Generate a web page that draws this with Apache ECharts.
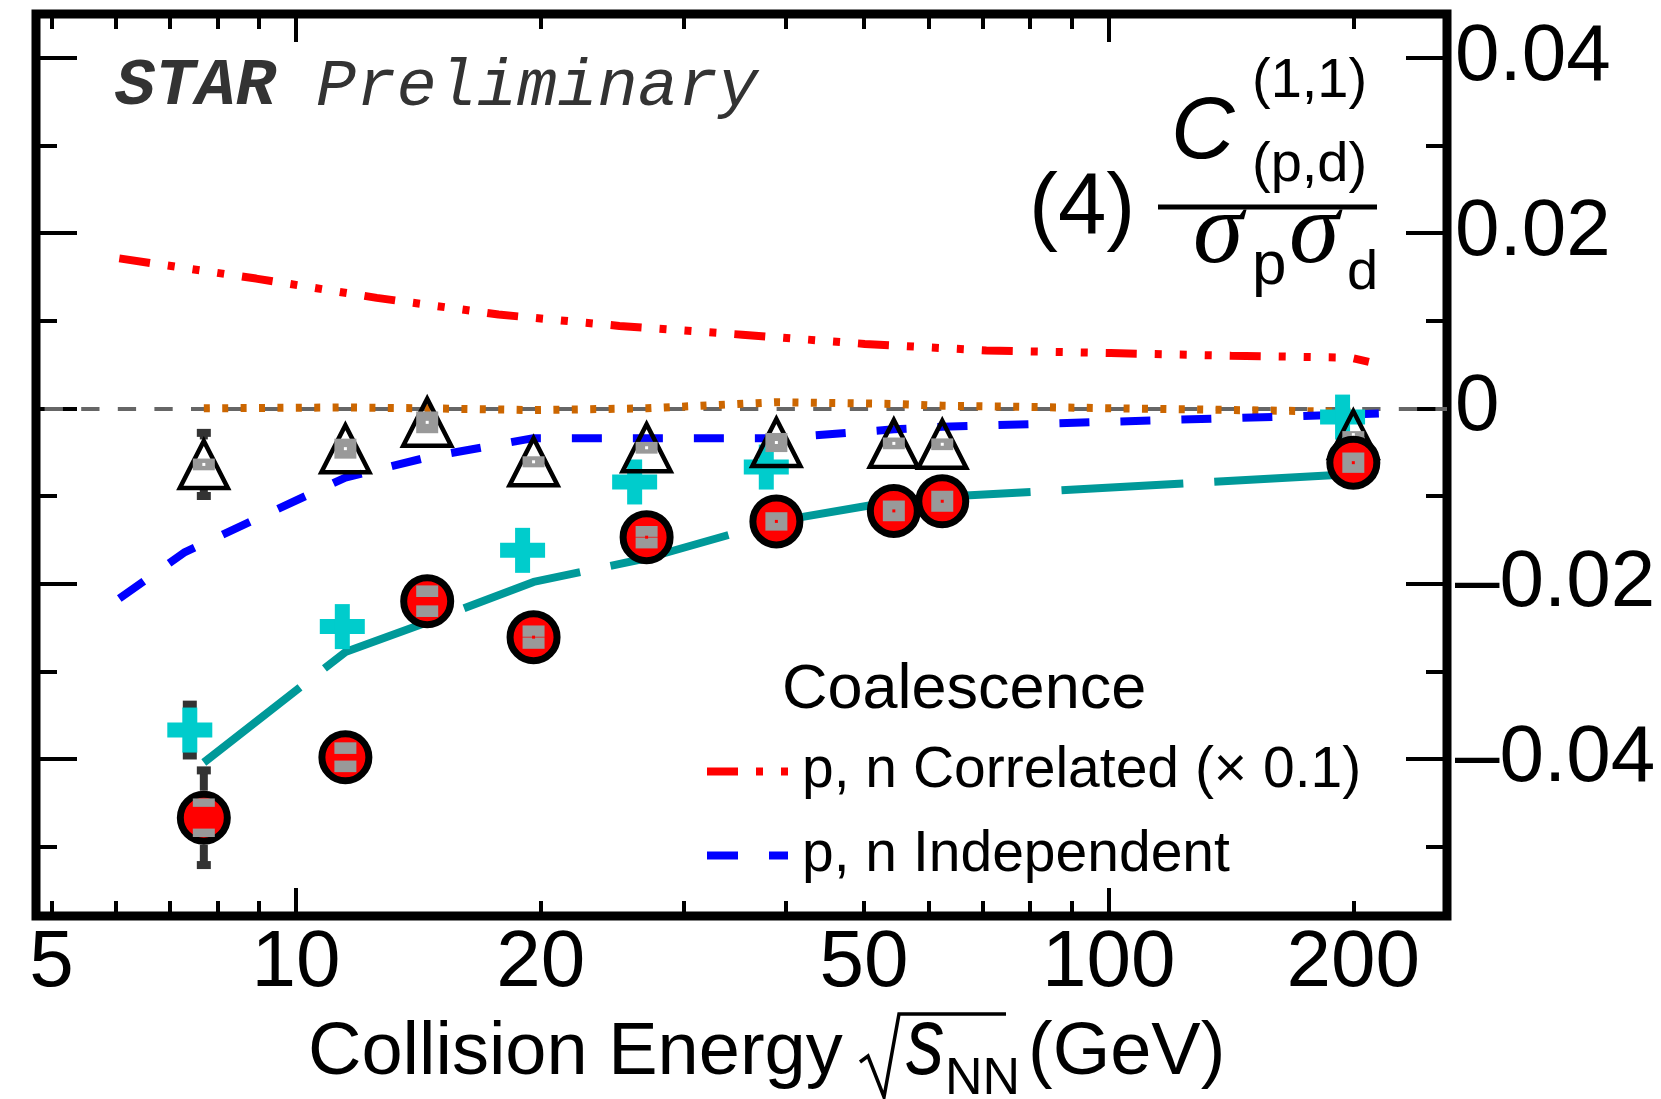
<!DOCTYPE html>
<html>
<head>
<meta charset="utf-8">
<script src="https://cdn.jsdelivr.net/npm/echarts@6/dist/echarts.min.js"></script>
<style>
html,body{margin:0;padding:0;background:#fff;}
#chart{width:1661px;height:1099px;}
</style>
</head>
<body>
<div id="chart"></div>
<script>
// ---------------- data ----------------
const energies = [7.7, 11.5, 14.5, 19.6, 27, 39, 54.4, 62.4, 200];

// red filled circles (measurement)
const circleValues  = [-0.0467, -0.0398, -0.0220, -0.0261, -0.0147, -0.0129, -0.0117, -0.0106, -0.0062];
const circleStatErr = [0.0054, 0.0030, 0.0012, 0.0010, 0.0008, 0.0008, 0.0008, 0.0008, 0.0010];
const circleSysErr  = [0.0022, 0.0017, 0.0018, 0.00133, 0.00128, 0.00105, 0.00118, 0.0012, 0.00116];
const circleSysGap  = [0.00124, 0.00038, 0.00048, 0.00004, 0.00004, 0, 0, 0, 0];

// open triangles
const triangleValues  = [-0.0064, -0.0046, -0.0016, -0.0061, -0.0045, -0.0039, -0.0040, -0.0041, -0.0030];
const triangleStatErr = [0.0036, 0.0012, 0.0010, 0.0010, 0.0010, 0.0010, 0.0010, 0.0010, 0.0010];
const triangleSysErr  = [0.00067, 0.00114, 0.00124, 0.00063, 0.00067, 0.00109, 0.00067, 0.00067, 0.0004];

// cyan crosses
const crossEnergies = [7.4, 11.4, 19.0, 26.1, 37.9, 194];
const crossValues   = [-0.0367, -0.0249, -0.0162, -0.0084, -0.0067, -0.0010];
const crossStatErr  = [0.0029, 0.0010, 0.0010, 0.0010, 0.0010, 0.0010];

// model curves
const correlatedE = [6.06, 8.93, 12.57, 17.75, 25.0, 35.4, 50.1, 70.7, 100.6, 141.5, 191.5, 200, 209];
const correlatedV = [0.0171, 0.0148, 0.0126, 0.0107, 0.0094, 0.0084, 0.00735, 0.0066, 0.0063, 0.0060, 0.0058, 0.0057, 0.0053];

const independentE = [6.06, 7.3, 7.7, 11.5, 14.5, 19.6, 27, 39, 54.4, 62.4, 200, 215];
const independentV = [-0.0217, -0.0164, -0.0154, -0.0079, -0.0056, -0.0034, -0.0034, -0.0034, -0.0024, -0.0021, -0.0007, -0.0006];

const tealE = [7.7, 11.5, 14.5, 19.6, 27, 39, 54.4, 62.4, 200];
const tealV = [-0.0404, -0.0278, -0.0244, -0.0198, -0.0171, -0.0129, -0.0106, -0.0101, -0.0075];

const orangeE = [7.7, 11.5, 14.5, 19.6, 27, 39, 54.4, 62.4, 200];
const orangeV = [0.0000, 0.0001, 0.0000, -0.0002, 0.0000, 0.0007, 0.0005, 0.0003, -0.0004];

// axes
const xMin = 4.786, xMax = 260.8;
const yMin = -0.05791, yMax = 0.04498;
const xMajorTicks = [10, 100];
const xMinorTicks = [5, 6, 7, 8, 9, 20, 30, 40, 50, 60, 70, 80, 90, 200];
const xTickLabels = [5, 10, 20, 50, 100, 200];
const yMajorTicks = [-0.04, -0.02, 0, 0.02, 0.04];
const yMinorTicks = [-0.05, -0.03, -0.01, 0.01, 0.03];

const seriesNames = ['p, n Correlated (\u00d7 0.1)', 'p, n Independent'];

// ---------------- helpers ----------------
const zip = (a, b) => a.map((v, i) => [v, b[i]]);
const zip3 = (a, b, c) => a.map((v, i) => [v, b[i], c[i]]);
const zip4 = (a, b, c, d) => a.map((v, i) => [v, b[i], c[i], d[i]]);
const SANS = '"Liberation Sans", Arial, Helvetica, sans-serif';
const SERIF = '"Liberation Serif", "Times New Roman", serif';

function xAx(pos, ticks, len, labels) {
  return {
    type: 'log', logBase: 10, min: xMin, max: xMax, position: pos, gridIndex: 0,
    axisLine: { show: false, onZero: false }, splitLine: { show: false }, minorTick: { show: false },
    axisTick: { show: true, inside: true, length: len, customValues: ticks, lineStyle: { color: '#000', width: 4 } },
    axisLabel: labels ? { show: true, customValues: labels, margin: 8, color: '#000', fontSize: 80, fontFamily: SANS, formatter: v => String(v) } : { show: false },
    axisPointer: { show: false }
  };
}
function yAx(pos, ticks, len, labels) {
  return {
    type: 'value', min: yMin, max: yMax, position: pos, gridIndex: 0,
    axisLine: { show: false, onZero: false }, splitLine: { show: false },
    axisTick: { show: true, inside: true, length: len, customValues: ticks, lineStyle: { color: '#000', width: 4 } },
    axisLabel: labels ? {
      show: true, customValues: labels, margin: 8, color: '#000', fontSize: 80, fontFamily: SANS, padding: [8, 0, 0, 0],
      formatter: v => Math.abs(v) < 1e-9 ? '0' : (v < 0 ? '\u2013' : '') + Math.abs(v).toFixed(2)
    } : { show: false },
    axisPointer: { show: false }
  };
}

function errorBars(gap) {
  return function (params, api) {
    const x = api.value(0), y = api.value(1), e = api.value(2);
    const c = api.coord([x, y]);
    const top = api.coord([x, y + e])[1];
    const bot = api.coord([x, y - e])[1];
    const w = 8, capW = 14, capH = 8, col = '#333';
    const ch = [];
    if (c[1] - top > gap) {
      ch.push({ type: 'rect', shape: { x: c[0] - w / 2, y: top, width: w, height: c[1] - gap - top }, style: { fill: col } });
      ch.push({ type: 'rect', shape: { x: c[0] - capW / 2, y: top - capH / 2, width: capW, height: capH }, style: { fill: col } });
    }
    if (bot - c[1] > gap) {
      ch.push({ type: 'rect', shape: { x: c[0] - w / 2, y: c[1] + gap, width: w, height: bot - c[1] - gap }, style: { fill: col } });
      ch.push({ type: 'rect', shape: { x: c[0] - capW / 2, y: bot - capH / 2, width: capW, height: capH }, style: { fill: col } });
    }
    return { type: 'group', children: ch };
  };
}
function sysBoxes(dotColor) {
  return function (params, api) {
    const x = api.value(0), y = api.value(1), s = api.value(2), g = api.value(3) || 0;
    const c = api.coord([x, y]);
    const yt = api.coord([x, y + s])[1], yb = api.coord([x, y - s])[1];
    const gt = api.coord([x, y + g])[1], gb = api.coord([x, y - g])[1];
    const hw = 11, col = '#999999';
    const ch = [];
    if (g > 0) {
      ch.push({ type: 'rect', shape: { x: c[0] - hw, y: yt, width: 2 * hw, height: gt - yt }, style: { fill: col } });
      ch.push({ type: 'rect', shape: { x: c[0] - hw, y: gb, width: 2 * hw, height: yb - gb }, style: { fill: col } });
    } else {
      ch.push({ type: 'rect', shape: { x: c[0] - hw, y: yt, width: 2 * hw, height: yb - yt }, style: { fill: col } });
    }
    ch.push({ type: 'rect', shape: { x: c[0] - 1.5, y: c[1] - 1.5, width: 3, height: 3 }, style: { fill: dotColor } });
    return { type: 'group', children: ch };
  };
}
function crossMarker(params, api) {
  const c = api.coord([api.value(0), api.value(1)]);
  const L = 45, T = 15, col = '#00cccc';
  return { type: 'group', children: [
    { type: 'rect', shape: { x: c[0] - L / 2, y: c[1] - T / 2, width: L, height: T }, style: { fill: col } },
    { type: 'rect', shape: { x: c[0] - T / 2, y: c[1] - L / 2, width: T, height: L }, style: { fill: col } }
  ] };
}

// text placed by (approximate) baseline; zrender draws with a 'middle' baseline
function txt(str, x, baseline, size, opts) {
  opts = opts || {};
  const fam = opts.family || SANS;
  const mid = opts.mid != null ? opts.mid : 0.3465;
  const el = {
    type: 'text', silent: true, z: 20, x: x, y: baseline - mid * size,
    style: {
      text: str, x: 0, y: 0,
      font: (opts.style || 'normal') + ' ' + (opts.weight || 'normal') + ' ' + size + 'px ' + fam,
      fill: opts.fill || '#000', align: 'left', verticalAlign: 'middle'
    }
  };
  if (opts.scaleX) el.scaleX = opts.scaleX;
  return el;
}

const lineBase = { type: 'line', showSymbol: false, symbol: 'none', silent: true, animation: false, z: 2, clip: true };

const chart = echarts.init(document.getElementById('chart'), null, { renderer: 'canvas' });
chart.setOption({
  animation: false,
  backgroundColor: '#fff',
  grid: { left: 36, top: 14, width: 1411, height: 902, show: true, borderWidth: 9, borderColor: '#000', backgroundColor: 'transparent', containLabel: false },
  xAxis: [
    xAx('bottom', xMajorTicks, 28, xTickLabels),
    xAx('bottom', xMinorTicks, 15, null),
    xAx('top', xMajorTicks, 28, null),
    xAx('top', xMinorTicks, 15, null)
  ],
  yAxis: [
    yAx('right', yMajorTicks, 41, yMajorTicks),
    yAx('right', yMinorTicks, 21, null),
    yAx('left', yMajorTicks, 41, null),
    yAx('left', yMinorTicks, 21, null)
  ],
  legend: {
    data: [
      { name: seriesNames[0], icon: 'path://M0,0h31v8h-31zM49,0h7v8h-7zM74,0h7v8h-7z' },
      { name: seriesNames[1], icon: 'path://M0,0h31v8h-31zM62,0h19v8h-19z' }
    ],
    orient: 'vertical', left: 707, top: 743, padding: 0,
    itemWidth: 81, itemHeight: 8, itemGap: 27, selectedMode: false,
    textStyle: { fontSize: 57, color: '#000', fontFamily: SANS, padding: [0, 0, 0, 9] }
  },
  series: [
    Object.assign({}, lineBase, {
      name: 'orange', data: zip(orangeE, orangeV),
      itemStyle: { color: '#cc6600' },
      lineStyle: { color: '#cc6600', width: 8, type: [6, 12.4], cap: 'butt' },
      markLine: {
        silent: true, symbol: 'none', z: 1, animation: false, label: { show: false },
        lineStyle: { color: '#666666', width: 4, type: [18.3, 18.3], dashOffset: 28 },
        data: [{ yAxis: 0 }]
      }
    }),
    Object.assign({}, lineBase, {
      name: seriesNames[0], data: zip(correlatedE, correlatedV),
      itemStyle: { color: '#ff0000' },
      lineStyle: { color: '#ff0000', width: 8, type: [31, 18, 7, 18, 7, 18, 7, 18], cap: 'butt' }
    }),
    Object.assign({}, lineBase, {
      name: seriesNames[1], data: zip(independentE, independentV),
      itemStyle: { color: '#0000ff' },
      lineStyle: { color: '#0000ff', width: 8, type: [30, 31], cap: 'butt' }
    }),
    Object.assign({}, lineBase, {
      name: 'teal', data: zip(tealE, tealV),
      itemStyle: { color: '#009999' },
      lineStyle: { color: '#009999', width: 8, type: [122, 31], cap: 'butt' }
    }),
    // error bars
    { type: 'custom', name: 'crossErr', renderItem: errorBars(22.5), data: zip3(crossEnergies, crossValues, crossStatErr), z: 3, silent: true, animation: false },
    { type: 'custom', name: 'triErr', renderItem: errorBars(25), data: zip3(energies, triangleValues, triangleStatErr), z: 3, silent: true, animation: false },
    { type: 'custom', name: 'circErr', renderItem: errorBars(27), data: zip3(energies, circleValues, circleStatErr), z: 3, silent: true, animation: false },
    // markers
    { type: 'custom', name: 'cross', renderItem: crossMarker, data: zip(crossEnergies, crossValues), z: 4, silent: true, animation: false },
    {
      type: 'scatter', name: 'triangles', data: zip(energies, triangleValues), symbol: 'triangle', symbolSize: [48, 47],
      itemStyle: { color: 'rgba(0,0,0,0)', borderColor: '#000', borderWidth: 4.5, opacity: 1 }, z: 5, silent: true, animation: false
    },
    { type: 'custom', name: 'triSys', renderItem: sysBoxes('#ffffff'), data: zip4(energies, triangleValues, triangleSysErr, energies.map(() => 0)), z: 6, silent: true, animation: false },
    {
      type: 'scatter', name: 'circles', data: zip(energies, circleValues), symbol: 'circle', symbolSize: 47,
      itemStyle: { color: '#ff0000', borderColor: '#000', borderWidth: 7, opacity: 1 }, z: 7, silent: true, animation: false
    },
    { type: 'custom', name: 'circSys', renderItem: sysBoxes('#ff0000'), data: zip4(energies, circleValues, circleSysErr, circleSysGap), z: 8, silent: true, animation: false }
  ],
  graphic: [
    // STAR Preliminary
    {
      type: 'text', silent: true, z: 20, x: 115, y: 105 - 0.2665 * 67,
      style: {
        text: '{b|STAR} {i|Preliminary}', x: 0, y: 0, verticalAlign: 'middle', align: 'left',
        rich: {
          b: { fontFamily: '"Liberation Mono", monospace', fontWeight: 'bold', fontStyle: 'italic', fontSize: 67, fill: '#333' },
          i: { fontFamily: '"Liberation Mono", monospace', fontStyle: 'italic', fontSize: 67, fill: '#333' }
        },
        font: 'italic 67px "Liberation Mono", monospace', fill: '#333'
      }
    },
    // y quantity label
    txt('(4)', 1029, 240, 87),
    txt('C', 1171, 164, 88, { style: 'italic' }),
    txt('(1,1)', 1252, 101, 56),
    txt('(p,d)', 1252, 185, 56),
    { type: 'rect', silent: true, z: 20, shape: { x: 1158, y: 204.5, width: 219, height: 5 }, style: { fill: '#000' } },
    txt('\u03c3', 1193, 270, 102, { style: 'italic', family: SERIF, mid: 0.3375 }),
    txt('p', 1252, 288, 62),
    txt('\u03c3', 1289, 270, 102, { style: 'italic', family: SERIF, mid: 0.3375 }),
    txt('d', 1347, 293, 56),
    // legend title
    txt('Coalescence', 782, 712, 63),
    // x axis title
    txt('Collision Energy', 308, 1079, 74),
    { type: 'polyline', silent: true, z: 20, shape: { points: [[860, 1062], [868, 1056], [884, 1097], [899, 1014], [1006, 1014]] }, style: { stroke: '#000', lineWidth: 3.5, fill: null, lineJoin: 'miter' } },
    txt('s', 906, 1081, 96, { style: 'italic', scaleX: 0.8 }),
    txt('NN', 945, 1098, 52),
    txt('(GeV)', 1028, 1079, 74)
  ]
});
</script>
</body>
</html>
